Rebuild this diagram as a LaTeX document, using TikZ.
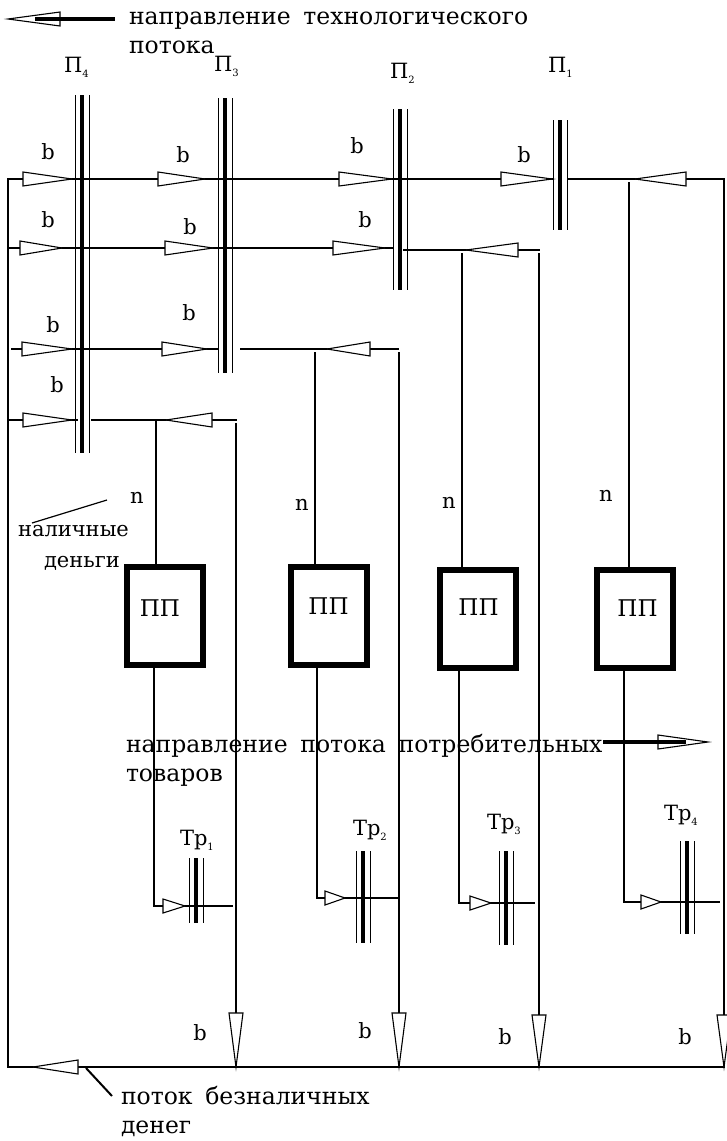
\documentclass[tikz,border=0pt]{standalone}
\usepackage{fontspec}
\setmainfont{DejaVu Serif}
\newcommand\pbar[3]{%
  \draw[line width=1pt] (#1-7,#2) -- (#1-7,#3) (#1+7,#2) -- (#1+7,#3);
  \draw[line width=4pt] (#1,#2) -- (#1,#3);}
\newcommand\htri[3]{\draw[line width=1.1pt,fill=white] (#2,#1) -- (#3,#1-7) -- (#3,#1+7) -- cycle;}
\newcommand\vtri[3]{\draw[line width=1.1pt,fill=white] (#1,#2) -- (#1-7,#3) -- (#1+7,#3) -- cycle;}
\newcommand\sbs[1]{{\fontsize{10}{10}\selectfont\raisebox{-5pt}{#1}}}
\newcommand\gap{\hspace{0.22em}}
\begin{document}
\begin{tikzpicture}[x=1pt,y=-1pt,line width=2pt,
  box/.style={draw,line width=6pt,minimum width=76pt,minimum height=98pt,inner sep=0pt},
  lbl/.style={font=\fontsize{21}{22}\selectfont,inner sep=0pt},
  plbl/.style={font=\fontsize{21}{22}\selectfont,inner sep=0pt},
  pptxt/.style={font=\fontsize{23}{24}\selectfont,inner sep=0pt},
  txt/.style={font=\fontsize{23.5}{29}\selectfont,inner sep=0pt,anchor=west,align=left},
]
\useasboundingbox (0,0) rectangle (726,1141);
% boxes
\node[box,label={[pptxt,shift={(-5,-8)}]center:ПП}] (b1) at (165,616) {};
\node[box,label={[pptxt,shift={(0,-10)}]center:ПП}] (b2) at (328.5,616) {};
\node[box,label={[pptxt,shift={(1,-12)}]center:ПП}] (b3) at (477.5,619) {};
\node[box,label={[pptxt,shift={(3,-11)}]center:ПП}] (b4) at (634.5,619) {};
% coordinates for vertical lines
\coordinate (u1) at (156,420);
\coordinate (u2) at (315,352);
\coordinate (u3) at (462,253);
\coordinate (u4) at (629,182);
\coordinate (d1) at (154,906);
\coordinate (d2) at (317,898);
\coordinate (d3) at (459,903);
\coordinate (d4) at (624,902);
% frame and row 1
\draw (553,179) -- (8,179) -- (8,1067) -- (724,1067) -- (724,179) -- (568,179);
% row 2
\draw (8,248) -- (393,248);
\draw (403,250) -- (540,250);
% row 3
\draw (11,349) -- (218,349);
\draw (240,349) -- (399,349);
% row 4
\draw (8,420) -- (78,420);
\draw (91,420) -- (237,420);
% verticals to boxes
\draw (u1) -- (u1 |- b1.north);
\draw (u2) -- (u2 |- b2.north);
\draw (u3) -- (u3 |- b3.north);
\draw (u4) -- (u4 |- b4.north);
% verticals to bottom
\draw (236,423) -- (236,1067);
\draw (399,352) -- (399,1067);
\draw (539,253) -- (539,1067);
% from boxes to traders
\draw (d1 |- b1.south) -- (d1) -- (233,906);
\draw (d2 |- b2.south) -- (d2) -- (398,898);
\draw (d3 |- b3.south) -- (d3) -- (535,903);
\draw (d4 |- b4.south) -- (d4) -- (720,902);
% bars
\pbar{82}{95}{453}
\pbar{225}{98}{373}
\pbar{400}{109}{290}
\pbar{560}{120}{230}
\pbar{196}{858}{923}
\pbar{363}{851}{943}
\pbar{506}{851}{945}
\pbar{687}{841}{934}
% arrows row 1
\htri{179}{72}{23}
\htri{179}{205}{158}
\htri{179}{392}{339}
\htri{179}{552}{501}
\htri{179}{635}{686}
% row 2
\htri{248}{62}{20}
\htri{248}{213}{165}
\htri{248}{385}{333}
\htri{250}{466}{518}
% row 3
\htri{349}{72}{22}
\htri{349}{207}{162}
\htri{349}{327}{370}
% row 4
\htri{420}{72}{23}
\htri{420}{166}{212}
% trader arrows
\htri{906}{185}{163}
\htri{898}{345}{325}
\htri{903}{491}{470}
\htri{902}{661}{641}
% down arrows
\vtri{236}{1067}{1013}
\vtri{399}{1067}{1013}
\vtri{539}{1067}{1015}
\vtri{724}{1067}{1015}
% bottom left arrow
\htri{1067}{33}{78}
% b labels
\foreach \p in {(48,152),(183,155),(357,146),(524,155),(48,220),(190,227),(365,220),(53,325),(189,313),(57,385),(200,1033),(365,1031),(505,1037),(685,1037)}
  \node[lbl] at \p {b};
\node[lbl] (n1) at (137,498) {n};
\node[lbl] (n2) at (302,505) {n};
\node[lbl] (n3) at (449,503) {n};
\node[lbl] (n4) at (606,496) {n};
% P labels
\node[plbl,anchor=south west] (p4) at (63,78) {П\sbs{4}};
\node[plbl,anchor=south west] (p3) at (213,78) {П\sbs{3}};
\node[plbl,anchor=south west] (p2) at (389,84) {П\sbs{2}};
\node[plbl,anchor=south west] (p1) at (547,78) {П\sbs{1}};
% Tr labels
\node[plbl,anchor=south west] (t1) at (179,851) {Тр\sbs{1}};
\node[plbl,anchor=south west] (t2) at (352,841) {Тр\sbs{2}};
\node[plbl,anchor=south west] (t3) at (486,836) {Тр\sbs{3}};
\node[plbl,anchor=south west] (t4) at (663,826) {Тр\sbs{4}};
% top legend
\htri{19}{8}{60}
\draw[line width=4.5pt] (35,19) -- (115,19);
\node[txt,anchor=north west] (lg1) at (128,11) {направление\gap{} технологического\\потока};
% middle legend
\node[txt,anchor=north west] (lg2) at (125,733) {направление\gap{} потока\gap{} потребительных\\товаров};
\htri{742}{708}{658}
\draw[line width=4.5pt] (603,742) -- (686,742);
% cash label
\node[txt,font=\fontsize{21}{31}\selectfont,anchor=north west] (cash) at (17,524) {наличные\\\hspace*{26pt}деньги};
\coordinate (cp) at (107,500);
\draw[line width=1.2pt] (32,523) -- (cp);
% bottom legend
\coordinate (bp) at (86,1068);
\draw (bp) -- (112,1096);
\node[txt,font=\fontsize{23.5}{29}\selectfont,anchor=north west] (lg3) at (120,1085) {поток\gap{} безналичных\\денег};
\end{tikzpicture}
\end{document}
